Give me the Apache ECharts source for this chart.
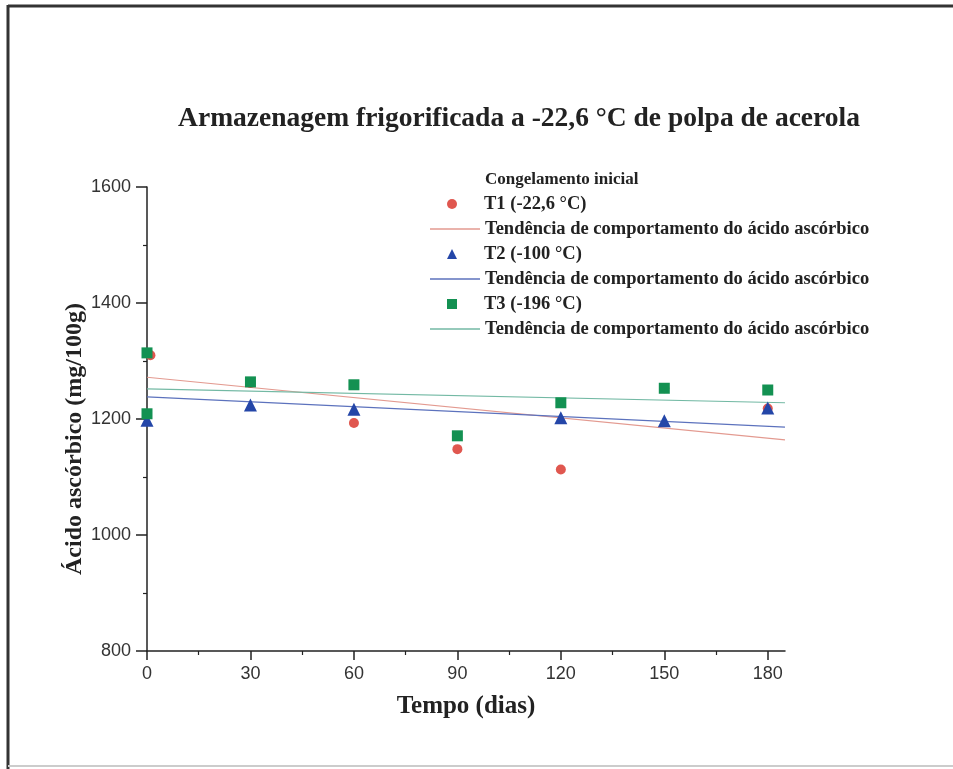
<!DOCTYPE html>
<html><head><meta charset="utf-8">
<script src="https://cdn.jsdelivr.net/npm/echarts@6/dist/echarts.min.js"></script>
<style>html,body{margin:0;padding:0;background:#fff}#c{width:953px;height:769px}</style>
</head><body><div id="c"></div>
<script>
const xTicks = [0, 30, 60, 90, 120, 150, 180];
const xMinorTicks = [15, 45, 75, 105, 135, 165];
const t1Days = [1, 30, 60, 90, 120, 150, 180];
const t1Values = [1310, 1262, 1193, 1148, 1113, 1253, 1218];
const t2Days = [0, 30, 60, 120, 150, 180];
const t2Values = [1198, 1224, 1217, 1202, 1197, 1219];
const t3Days = [0, 0, 30, 60, 90, 120, 150, 180];
const t3Values = [1314, 1209, 1264, 1259, 1171, 1228, 1253, 1250];
const trendDays = [0, 185];
const trendT1 = [1272, 1164];
const trendT2 = [1238, 1186];
const trendT3 = [1252, 1228];
const nameT1 = 'T1 (-22,6 °C)';
const nameT2 = 'T2 (-100 °C)';
const nameT3 = 'T3 (-196 °C)';
const trendName = 'Tendência de comportamento do ácido ascórbico';

const zip = (xs, ys) => xs.map((x, i) => [x, ys[i]]);
const serif = '"Liberation Serif", "Times New Roman", serif';
const sans = '"Liberation Sans", Arial, sans-serif';
const tr1 = trendName + '\u200b', tr2 = trendName + '\u200b\u200b', tr3 = trendName + '\u200b\u200b\u200b';
const legendText = { fontFamily: serif, fontWeight: 'bold', fontSize: 18.5, color: '#222', lineHeight: 20 };

const chart = echarts.init(document.getElementById('c'));
chart.setOption({
  backgroundColor: '#fff',
  animation: false,
  title: [
    { text: 'Armazenagem frigorificada a -22,6 °C de polpa de acerola', left: 514, top: 100, textAlign: 'center',
      textStyle: { fontFamily: serif, fontWeight: 'bold', fontSize: 27.5, color: '#222' } },
    { text: 'Congelamento inicial', left: 480, top: 166,
      textStyle: { fontFamily: serif, fontWeight: 'bold', fontSize: 17, color: '#222' } }
  ],
  legend: [{
    orient: 'vertical', left: 447, top: 194, itemGap: 30, itemWidth: 10, itemHeight: 10, padding: 0,
    textStyle: Object.assign({ padding: [0, 0, 0, 22] }, legendText),
    data: [{ name: nameT1, icon: 'circle' }, { name: nameT2, icon: 'triangle' }, { name: nameT3, icon: 'rect' }]
  }, {
    orient: 'vertical', left: 430, top: 219, itemGap: 30, itemWidth: 50, itemHeight: 1.3, padding: 0,
    icon: 'rect',
    textStyle: legendText,
    data: [tr1, tr2, tr3],
    formatter: n => n.replace(/\u200b/g, '')
  }],
  grid: { left: 147, right: 168, top: 187, bottom: 118 },
  xAxis: [{
    type: 'value', min: 0, max: 185,
    name: 'Tempo (dias)', nameLocation: 'middle', nameGap: 43,
    nameTextStyle: { fontFamily: serif, fontWeight: 'bold', fontSize: 25, color: '#222' },
    axisLine: { onZero: false, lineStyle: { color: '#222', width: 1.5 } },
    axisTick: { customValues: xTicks, length: 9, lineStyle: { color: '#222', width: 1.5 } },
    axisLabel: { customValues: xTicks, fontFamily: sans, fontSize: 18, color: '#333', margin: 14 },
    splitLine: { show: false }
  }, {
    type: 'value', min: 0, max: 185, position: 'bottom',
    axisLine: { show: false },
    axisTick: { customValues: xMinorTicks, length: 4, lineStyle: { color: '#222', width: 1.2 } },
    axisLabel: { show: false }, splitLine: { show: false }
  }],
  yAxis: {
    type: 'value', min: 800, max: 1600, interval: 200,
    name: 'Ácido ascórbico (mg/100g)', nameLocation: 'middle', nameGap: 60, nameRotate: 90,
    nameMoveOverlap: false,
    nameTextStyle: { fontFamily: serif, fontWeight: 'bold', fontSize: 24, color: '#222', padding: [0, 40, 0, 0] },
    axisLine: { show: true, lineStyle: { color: '#222', width: 1.5 } },
    axisTick: { show: true, length: 11, lineStyle: { color: '#222', width: 1.5 } },
    minorTick: { show: true, splitNumber: 2, length: 4, lineStyle: { color: '#222', width: 1.2 } },
    axisLabel: { fontFamily: sans, fontSize: 18, color: '#333', margin: 16, formatter: v => String(v) },
    splitLine: { show: false }
  },
  series: [
    { name: nameT1, type: 'scatter', symbol: 'circle', symbolSize: 10, z: 3,
      itemStyle: { color: '#e0574f', opacity: 1 }, data: zip(t1Days, t1Values) },
    { name: tr1, type: 'line', symbol: 'none', z: 2,
      lineStyle: { color: '#e39a90', width: 1.2 }, itemStyle: { color: '#e39a90' }, data: zip(trendDays, trendT1) },
    { name: nameT2, type: 'scatter', symbol: 'triangle', symbolSize: 13, z: 4,
      itemStyle: { color: '#2446a8', opacity: 1 }, data: zip(t2Days, t2Values) },
    { name: tr2, type: 'line', symbol: 'none', z: 2,
      lineStyle: { color: '#5c72bd', width: 1.2 }, itemStyle: { color: '#5c72bd' }, data: zip(trendDays, trendT2) },
    { name: nameT3, type: 'scatter', symbol: 'rect', symbolSize: 11, z: 5,
      itemStyle: { color: '#139152', opacity: 1 }, data: zip(t3Days, t3Values) },
    { name: tr3, type: 'line', symbol: 'none', z: 2,
      lineStyle: { color: '#73b9a4', width: 1.2 }, itemStyle: { color: '#73b9a4' }, data: zip(trendDays, trendT3) }
  ],
  graphic: [
    { type: 'line', shape: { x1: 8, y1: 6, x2: 953, y2: 6 }, style: { stroke: '#333', lineWidth: 3 } },
    { type: 'line', shape: { x1: 8, y1: 5, x2: 8, y2: 769 }, style: { stroke: '#333', lineWidth: 3 } },
    { type: 'line', shape: { x1: 8, y1: 766, x2: 953, y2: 766 }, style: { stroke: '#ccc', lineWidth: 2 } }
  ]
});
</script></body></html>
